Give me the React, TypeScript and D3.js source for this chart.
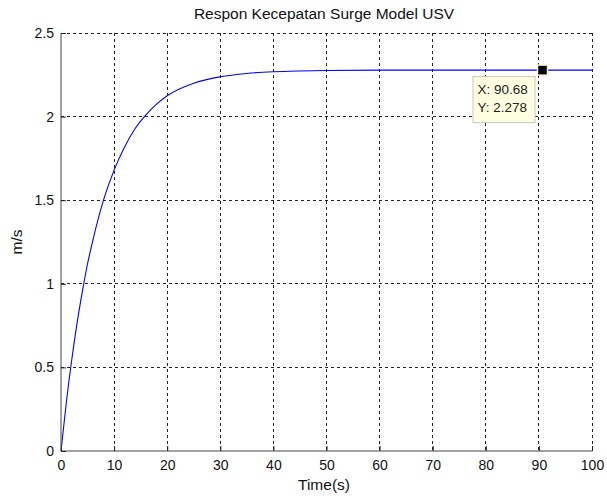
import React, { useEffect, useRef, FC } from 'react';
import * as d3 from 'd3';

/* Values */
const timeValues: number[] = [0, 1, 2, 3, 4, 5, 6, 8, 10, 12, 14, 16, 18, 20, 25, 30, 35, 40, 45, 50, 60, 70, 80, 90, 100];
const surgeValues: number[] = [0, 0.29, 0.54, 0.76, 0.95, 1.12, 1.26, 1.5, 1.68, 1.82, 1.93, 2.01, 2.075, 2.125, 2.2, 2.238, 2.258, 2.268, 2.273, 2.276, 2.278, 2.278, 2.278, 2.278, 2.278];
const xTicks: number[] = [0, 10, 20, 30, 40, 50, 60, 70, 80, 90, 100];
const yTicks: number[] = [0, 0.5, 1, 1.5, 2, 2.5];
const tipX: number = 90.68;
const tipY: number = 2.278;

type Margin = {
  left: number;
  top: number;
  right: number;
  bottom: number;
};

const FONT = '"Liberation Sans", Arial, Helvetica, sans-serif';

const App: FC = () => {
  const xAxisRef = useRef<SVGGElement | null>(null);
  const yAxisRef = useRef<SVGGElement | null>(null);
  const width: number = 607;
  const height: number = 496;
  const margin: Margin = { left: 61, top: 33, right: 15, bottom: 45 };
  const innerW = width - margin.left - margin.right;
  const innerH = height - margin.top - margin.bottom;

  const x = d3.scaleLinear().domain([0, 100]).range([0, innerW]);
  const y = d3.scaleLinear().domain([0, 2.5]).range([innerH, 0]);

  const points: [number, number][] = timeValues.map((t, i) => [t, surgeValues[i]]);
  const line = d3
    .line<[number, number]>()
    .x((d) => x(d[0]))
    .y((d) => y(d[1]))
    .curve(d3.curveMonotoneX);

  useEffect(() => {
    const xAxis: any = d3.axisBottom(x).tickValues(xTicks).tickSize(-5).tickPadding(9).tickFormat(d3.format('d'));
    const yAxis: any = d3.axisLeft(y).tickValues(yTicks).tickSize(-5).tickPadding(7).tickFormat((d: any) => String(d));
    const gx = d3.select(xAxisRef.current).call(xAxis);
    const gy = d3.select(yAxisRef.current).call(yAxis);
    [gx, gy].forEach((g) => {
      g.selectAll('.domain').attr('stroke', '#444');
      g.selectAll('.tick line').attr('stroke', '#222');
      g.selectAll('.tick text').attr('fill', '#111').style('font-family', FONT).style('font-size', '14px');
    });
    gx.selectAll('.domain').attr('d', `M0.5,0H${innerW + 0.5}`);
    gy.selectAll('.domain').attr('d', `M0,${innerH}V0`);
  });

  const px = x(tipX);
  const py = y(tipY);

  return (
    <svg width={width} height={height} style={{ position: 'absolute', left: 0, top: 0, background: '#fff' }}>
      <text x={324} y={19} textAnchor="middle" fontFamily={FONT} fontSize={15.5} fill="#111">
        Respon Kecepatan Surge Model USV
      </text>
      <g transform={`translate(${margin.left},${margin.top})`}>
        <g id="grid" stroke="#222" strokeWidth={1} strokeDasharray="3,3" shapeRendering="crispEdges">
          {xTicks.slice(1).map((t) => (
            <line key={'gx' + t} x1={x(t)} x2={x(t)} y1={0} y2={innerH} />
          ))}
          {yTicks.slice(1).map((t) => (
            <line key={'gy' + t} x1={0} x2={innerW} y1={y(t)} y2={y(t)} />
          ))}
        </g>
        <path d={line(points) || ''} fill="none" stroke="#0000ff" strokeWidth={1.1} />
        <g ref={xAxisRef} transform={`translate(0,${innerH})`} />
        <g ref={yAxisRef} />
        <rect x={px - 5} y={py - 5} width={10} height={10} fill="#000" stroke="#f5f0c8" strokeWidth={1.5} />
        <g transform={`translate(${px - 70},${py + 6})`}>
          <rect x={0.5} y={0.5} width={62} height={46} fill="#ffffe1" stroke="#c8c8b4" strokeWidth={1} />
          <text x={5} y={18} fontFamily={FONT} fontSize={13.5} fill="#222">
            X: {tipX}
          </text>
          <text x={5} y={36} fontFamily={FONT} fontSize={13.5} fill="#222">
            Y: {tipY}
          </text>
        </g>
      </g>
      <text x={324} y={490} textAnchor="middle" fontFamily={FONT} fontSize={15.5} fill="#111">
        Time(s)
      </text>
      <text
        transform={`translate(22,${margin.top + innerH / 2}) rotate(-90)`}
        textAnchor="middle"
        fontFamily={FONT}
        fontSize={15.5}
        fill="#111"
      >
        m/s
      </text>
    </svg>
  );
};

export default App;
